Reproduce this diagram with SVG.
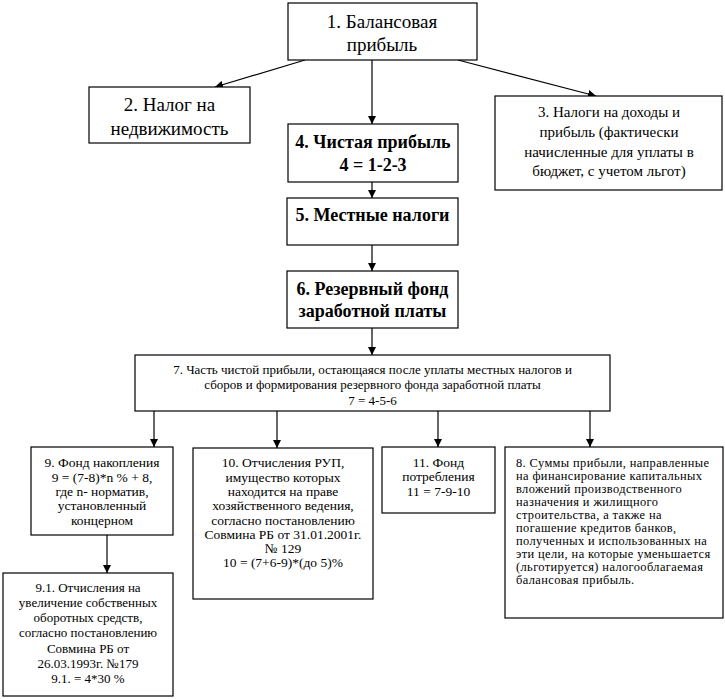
<svg xmlns="http://www.w3.org/2000/svg" width="725" height="699" viewBox="0 0 725 699">
<defs>
<style>
.box{fill:#fff;stroke:#000;stroke-width:1.2}
.t{font-family:"Liberation Serif","DejaVu Serif","Noto Serif",serif;fill:#000;text-anchor:middle}
.big{font-size:19px}
.bold{font-size:18px;font-weight:bold}
.mid{font-size:15px}
.sm{font-size:13px}
.sm2{font-size:13.5px}
.sm3{font-size:12.4px;letter-spacing:0.4px}
.l{text-anchor:start}
.c{stroke:#000;stroke-width:1.2;fill:none;marker-end:url(#ah)}
</style>
<marker id="ah" viewBox="0 0 10 10" refX="10" refY="5" markerWidth="8" markerHeight="8" markerUnits="userSpaceOnUse" orient="auto">
<path d="M0,0 L10,5 L0,10 z" fill="#000"/>
</marker>
</defs>
<rect width="725" height="699" fill="#fff"/>
<g id="connectors">
<line class="c" x1="305" y1="60" x2="215" y2="87"/>
<line class="c" x1="458" y1="60" x2="596" y2="96"/>
<line class="c" x1="372" y1="60" x2="372" y2="124"/>
<line class="c" x1="372" y1="182" x2="372" y2="198"/>
<line class="c" x1="372" y1="245" x2="372" y2="271"/>
<line class="c" x1="372" y1="328" x2="372" y2="355"/>
<line class="c" x1="154" y1="411" x2="154" y2="447"/>
<line class="c" x1="277" y1="411" x2="277" y2="448"/>
<line class="c" x1="438" y1="411" x2="438" y2="447"/>
<line class="c" x1="590" y1="411" x2="590" y2="447"/>
<line class="c" x1="107" y1="535" x2="107" y2="573"/>
</g>
<g id="n1">
<rect class="box" x="288" y="3" width="189" height="57"/>
<text class="t big" x="382" y="28">1. Балансовая</text>
<text class="t big" x="382" y="51">прибыль</text>
</g>
<g id="n2">
<rect class="box" x="89" y="87" width="161" height="56"/>
<text class="t big" x="169.5" y="111">2. Налог на</text>
<text class="t big" x="169.5" y="135">недвижимость</text>
</g>
<g id="n3">
<rect class="box" x="495" y="96" width="227" height="94"/>
<text class="t mid" x="609" y="117">3. Налоги на доходы и</text>
<text class="t mid" x="609" y="137">прибыль (фактически</text>
<text class="t mid" x="609" y="157">начисленные для уплаты в</text>
<text class="t mid" x="609" y="176">бюджет, с учетом льгот)</text>
</g>
<g id="n4">
<rect class="box" x="288" y="124" width="170" height="58"/>
<text class="t bold" x="373" y="148">4. Чистая прибыль</text>
<text class="t bold" x="373" y="171">4 = 1-2-3</text>
</g>
<g id="n5">
<rect class="box" x="287" y="198" width="171" height="47"/>
<text class="t bold" x="372.5" y="221">5. Местные налоги</text>
</g>
<g id="n6">
<rect class="box" x="287" y="271" width="171" height="57"/>
<text class="t bold" x="372.5" y="295">6. Резервный фонд</text>
<text class="t bold" x="372.5" y="317">заработной платы</text>
</g>
<g id="n7">
<rect class="box" x="135" y="355" width="475" height="56"/>
<text class="t sm" x="372.5" y="374">7. Часть чистой прибыли, остающаяся после уплаты местных налогов и</text>
<text class="t sm" x="372.5" y="389">сборов и формирования резервного фонда заработной платы</text>
<text class="t sm" x="372.5" y="405">7 = 4-5-6</text>
</g>
<g id="n9">
<rect class="box" x="31" y="447" width="142" height="88"/>
<text class="t sm2" x="102" y="467">9. Фонд накопления</text>
<text class="t sm2" x="102" y="482">9 = (7-8)*n % + 8,</text>
<text class="t sm2" x="102" y="496">где n- норматив,</text>
<text class="t sm2" x="102" y="510">установленный</text>
<text class="t sm2" x="102" y="525">концерном</text>
</g>
<g id="n91">
<rect class="box" x="3" y="573" width="170" height="123"/>
<text class="t sm" x="88" y="592">9.1. Отчисления на</text>
<text class="t sm" x="88" y="607">увеличение собственных</text>
<text class="t sm" x="88" y="622">оборотных средств,</text>
<text class="t sm" x="88" y="637">согласно постановлению</text>
<text class="t sm" x="88" y="653">Совмина РБ от</text>
<text class="t sm" x="88" y="668">26.03.1993г. №179</text>
<text class="t sm" x="88" y="683">9.1. = 4*30 %</text>
</g>
<g id="n10">
<rect class="box" x="193" y="448" width="180" height="151"/>
<text class="t sm2" x="283" y="467">10. Отчисления РУП,</text>
<text class="t sm2" x="283" y="482">имущество которых</text>
<text class="t sm2" x="283" y="496">находится на праве</text>
<text class="t sm2" x="283" y="510">хозяйственного ведения,</text>
<text class="t sm2" x="283" y="525">согласно постановлению</text>
<text class="t sm2" x="283" y="539">Совмина РБ от 31.01.2001г.</text>
<text class="t sm2" x="283" y="553">№ 129</text>
<text class="t sm2" x="283" y="567">10 = (7+6-9)*(до 5)%</text>
</g>
<g id="n11">
<rect class="box" x="382" y="447" width="113" height="66"/>
<text class="t sm2" x="438.5" y="467">11. Фонд</text>
<text class="t sm2" x="438.5" y="481">потребления</text>
<text class="t sm2" x="438.5" y="496">11 = 7-9-10</text>
</g>
<g id="n8">
<rect class="box" x="505" y="447" width="218" height="171"/>
<text class="t sm3 l" x="516" y="467">8. Суммы прибыли, направленные</text>
<text class="t sm3 l" x="516" y="480">на финансирование капитальных</text>
<text class="t sm3 l" x="516" y="493">вложений производственного</text>
<text class="t sm3 l" x="516" y="506">назначения и жилищного</text>
<text class="t sm3 l" x="516" y="519">строительства, а также на</text>
<text class="t sm3 l" x="516" y="532">погашение кредитов банков,</text>
<text class="t sm3 l" x="516" y="545">полученных и использованных на</text>
<text class="t sm3 l" x="516" y="558">эти цели, на которые уменьшается</text>
<text class="t sm3 l" x="516" y="571">(льготируется) налогооблагаемая</text>
<text class="t sm3 l" x="516" y="584">балансовая прибыль.</text>
</g>
</svg>
